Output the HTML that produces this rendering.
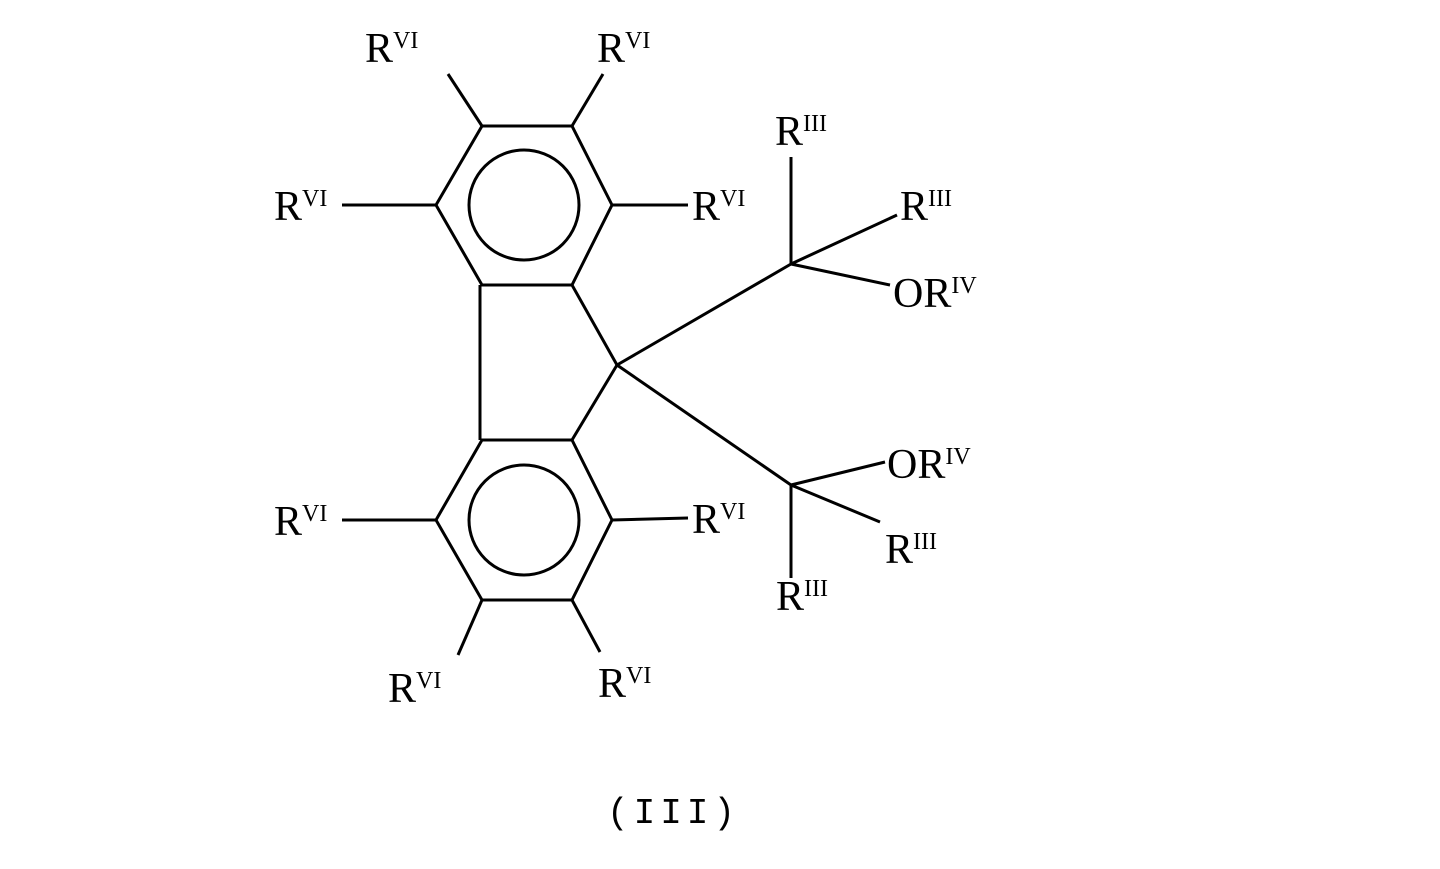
<!DOCTYPE html>
<html><head><style>html,body{margin:0;padding:0;background:#fff}</style></head>
<body>
<svg width="1440" height="864" viewBox="0 0 1440 864" xmlns="http://www.w3.org/2000/svg">
<g stroke="#000" stroke-width="3" fill="none">
<polygon points="482,126 572,126 612,205 572,285 482,285 436,205"/>
<circle cx="524" cy="205" r="55"/>
<polygon points="482,440 572,440 612,520 572,600 482,600 436,520"/>
<circle cx="524" cy="520" r="55"/>
<line x1="480" y1="285" x2="480" y2="440"/>
<line x1="572" y1="285" x2="617" y2="365"/>
<line x1="572" y1="440" x2="617" y2="365"/>
<line x1="617" y1="365" x2="791" y2="264"/>
<line x1="617" y1="365" x2="791" y2="485"/>
<line x1="791" y1="157" x2="791" y2="264"/>
<line x1="791" y1="264" x2="897" y2="215"/>
<line x1="791" y1="264" x2="890" y2="285"/>
<line x1="791" y1="485" x2="885" y2="462"/>
<line x1="791" y1="485" x2="880" y2="522"/>
<line x1="791" y1="485" x2="791" y2="578"/>
<line x1="482" y1="126" x2="448" y2="74"/>
<line x1="572" y1="126" x2="603" y2="74"/>
<line x1="436" y1="205" x2="342" y2="205"/>
<line x1="612" y1="205" x2="688" y2="205"/>
<line x1="436" y1="520" x2="342" y2="520"/>
<line x1="612" y1="520" x2="688" y2="518"/>
<line x1="482" y1="600" x2="458" y2="655"/>
<line x1="572" y1="600" x2="600" y2="652"/>
</g>
<g font-family="Liberation Serif, serif" font-size="42" fill="#000">
<text x="365" y="62">R<tspan font-size="24" dy="-14">VI</tspan></text>
<text x="597" y="62">R<tspan font-size="24" dy="-14">VI</tspan></text>
<text x="274" y="220">R<tspan font-size="24" dy="-14">VI</tspan></text>
<text x="692" y="220">R<tspan font-size="24" dy="-14">VI</tspan></text>
<text x="274" y="535">R<tspan font-size="24" dy="-14">VI</tspan></text>
<text x="692" y="533">R<tspan font-size="24" dy="-14">VI</tspan></text>
<text x="388" y="702">R<tspan font-size="24" dy="-14">VI</tspan></text>
<text x="598" y="697">R<tspan font-size="24" dy="-14">VI</tspan></text>
<text x="775" y="145">R<tspan font-size="24" dy="-14">III</tspan></text>
<text x="900" y="220">R<tspan font-size="24" dy="-14">III</tspan></text>
<text x="893" y="307">OR<tspan font-size="24" dy="-14">IV</tspan></text>
<text x="887" y="478">OR<tspan font-size="24" dy="-14">IV</tspan></text>
<text x="885" y="563">R<tspan font-size="24" dy="-14">III</tspan></text>
<text x="776" y="610">R<tspan font-size="24" dy="-14">III</tspan></text>
</g>
<text x="607" y="823" font-family="Liberation Mono, monospace" font-size="36" letter-spacing="5" fill="#000">(III)</text>
</svg>
</body></html>
